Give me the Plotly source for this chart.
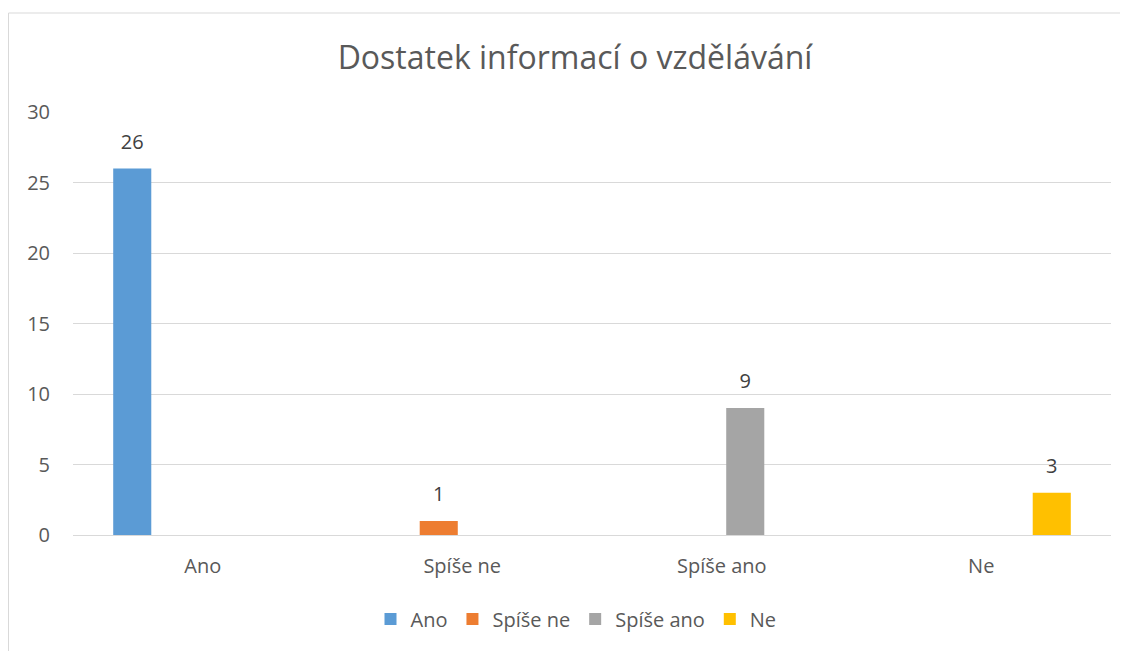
import plotly.graph_objects as go

categories = ["Ano", "Spíše ne", "Spíše ano", "Ne"]
series_names = ["Ano", "Spíše ne", "Spíše ano", "Ne"]
ano = [26, None, None, None]
spise_ne = [None, 1, None, None]
spise_ano = [None, None, 9, None]
ne = [None, None, None, 3]
colors = ["#5B9BD5", "#ED7D31", "#A5A5A5", "#FFC000"]
title = "Dostatek informací o vzdělávání"

# page body has an 8px margin, so the figure is drawn 8px smaller and offset
OFF = 8
W, H = 1128 - OFF, 651 - OFF
L, R, T, B = 73 - OFF, 17, 112 - OFF, 116

FONT = "Open Sans"
series = [ano, spise_ne, spise_ano, ne]
fig = go.Figure()
for i, (name, vals, col) in enumerate(zip(series_names, series, colors)):
    fig.add_trace(go.Bar(
        x=categories, y=vals, name=name, offsetgroup=str(i), alignmentgroup="g",
        marker=dict(color=col, line=dict(width=0)),
    ))
# data labels: grouped scatter points aligned with the bars, text above
for i, (name, vals) in enumerate(zip(series_names, series)):
    fig.add_trace(go.Scatter(
        x=categories, y=vals, mode="markers+text", showlegend=False, hoverinfo="skip",
        offsetgroup=str(i), alignmentgroup="g",
        text=[("" if v is None else str(v)) for v in vals], textposition="top center",
        marker=dict(size=22, opacity=0), cliponaxis=False,
        textfont=dict(family=FONT, size=20, color="#404040"),
    ))

fig.update_layout(
    width=W, height=H,
    margin=dict(l=L, r=R, t=T, b=B),
    barmode="group", bargap=0.2755, bargroupgap=0.19,
    scattermode="group", scattergap=0.2755,
    plot_bgcolor="white", paper_bgcolor="white",
    font=dict(family=FONT, size=20, color="#595959"),
    title=dict(text=title, x=(575 - OFF) / W, xanchor="center", y=1 - (58 - OFF) / H, yanchor="middle",
               font=dict(family=FONT, size=32, color="#595959")),
    showlegend=True,
    legend=dict(orientation="h", x=(576 - 73) / 1038, xanchor="center", y=(535 - 619) / 423, yanchor="middle",
                font=dict(family=FONT, size=20, color="#595959"), itemclick=False, itemwidth=30),
)
fig.update_xaxes(showgrid=False, showline=False, ticks="", ticklabelstandoff=17,
                 tickfont=dict(family=FONT, size=20, color="#595959"))
fig.update_yaxes(range=[0, 30], dtick=5, showgrid=True, gridcolor="#D9D9D9", gridwidth=1,
                 zeroline=True, zerolinecolor="#D9D9D9", zerolinewidth=1,
                 showline=False, ticks="", ticklabelstandoff=22,
                 tickfont=dict(family=FONT, size=20, color="#595959"))

fig.add_shape(type="rect", xref="paper", yref="paper",
              x0=(8.5 - 73) / 1038, x1=(1140 - 73) / 1038,
              y0=(535 - 670) / 423, y1=(535 - 13) / 423,
              line=dict(color="#D9D9D9", width=1), fillcolor="rgba(0,0,0,0)", layer="below")

fig.write_html("out.html")
